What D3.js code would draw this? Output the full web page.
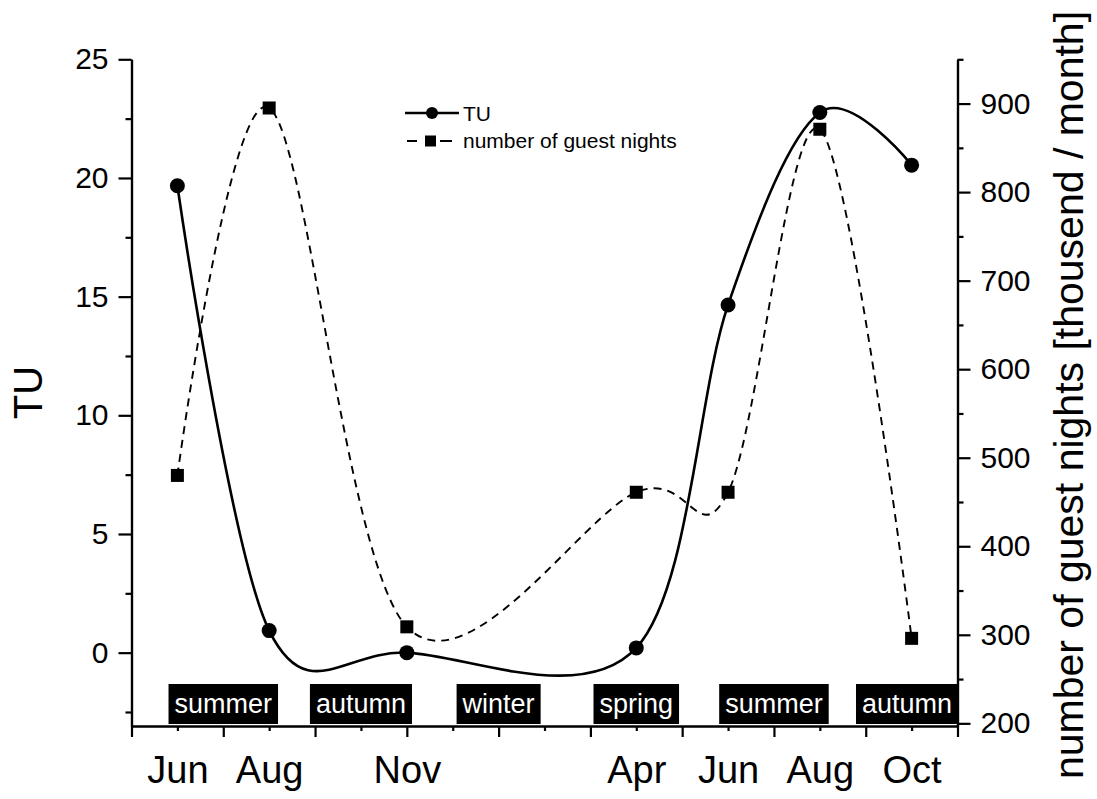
<!DOCTYPE html>
<html>
<head>
<meta charset="utf-8">
<script src="https://cdn.jsdelivr.net/npm/d3@7"></script>
<style>
  html, body { margin: 0; padding: 0; background: #fff; }
  svg text { font-family: "Liberation Sans", Arial, sans-serif; fill: #000; }
</style>
</head>
<body>
<svg id="chart" width="1097" height="799"></svg>
<script>
// ---- data ----
const monthPos = [1, 3, 6, 11, 13, 15, 17];            // month index (0 = May of first year)
const monthLabels = ["Jun", "Aug", "Nov", "Apr", "Jun", "Aug", "Oct"];
const tuValues = [19.67, 0.93, 0.0, 0.2, 14.65, 22.76, 20.54];
const guestNights = [480, 895, 309, 461, 461, 871, 296]; // thousand / month
const seasonNames = ["summer", "autumn", "winter", "spring", "summer", "autumn"];
const seasonCenters = [2, 5, 8, 11, 14, 16.9];
const tuTicks = [0, 5, 10, 15, 20, 25];
const tuMinor = [-2.5, 2.5, 7.5, 12.5, 17.5, 22.5];
const nightTicks = [200, 300, 400, 500, 600, 700, 800, 900];
const nightMinor = [250, 350, 450, 550, 650, 750, 850, 950];
const xMajor = [0, 2, 4, 6, 8, 10, 12, 14, 16, 18];
const xMinor = [1, 3, 5, 7, 9, 11, 13, 15, 17];

// ---- layout ----
const svg = d3.select("#chart");
const X0 = 131.5, X1 = 957.5, YT = 59.3, YB = 726;
const x = d3.scaleLinear().domain([0, 18]).range([X0, X1]);
const yL = d3.scaleLinear().domain([-3.09, 25]).range([YB, YT]);
const yR = d3.scaleLinear().domain([197, 950]).range([YB, YT]);
const curve = d3.curveCatmullRom.alpha(0);

const axisStroke = 2.2;
function styleAxis(g) {
  g.selectAll("path.domain").attr("stroke", "#000").attr("stroke-width", axisStroke);
  g.selectAll(".tick line").attr("stroke", "#000").attr("stroke-width", axisStroke);
}

// left axis
svg.append("g").attr("transform", `translate(${X0},0)`)
  .call(d3.axisLeft(yL).tickValues(tuTicks).tickSize(13).tickSizeOuter(0).tickPadding(10))
  .call(styleAxis)
  .call(g => g.selectAll(".tick text").attr("font-size", 30).attr("font-family", "Liberation Sans"));
svg.append("g").attr("transform", `translate(${X0},0)`)
  .call(d3.axisLeft(yL).tickValues(tuMinor).tickSize(6).tickSizeOuter(0).tickFormat(""))
  .call(styleAxis);

// right axis
svg.append("g").attr("transform", `translate(${X1},0)`)
  .call(d3.axisRight(yR).tickValues(nightTicks).tickSize(13).tickSizeOuter(0).tickPadding(10))
  .call(styleAxis)
  .call(g => g.selectAll(".tick text").attr("font-size", 30).attr("font-family", "Liberation Sans"));
svg.append("g").attr("transform", `translate(${X1},0)`)
  .call(d3.axisRight(yR).tickValues(nightMinor).tickSize(6).tickSizeOuter(0).tickFormat(""))
  .call(styleAxis);

// bottom axis
svg.append("g").attr("transform", `translate(0,${YB})`)
  .call(d3.axisBottom(x).tickValues(xMajor).tickSize(11).tickSizeOuter(0).tickFormat(""))
  .call(styleAxis);
svg.append("g").attr("transform", `translate(0,${YB})`)
  .call(d3.axisBottom(x).tickValues(xMinor).tickSize(5).tickSizeOuter(0).tickFormat(""))
  .call(styleAxis);
svg.append("g").attr("transform", `translate(0,${YB})`)
  .call(d3.axisBottom(x).tickValues(monthPos).tickSize(0).tickPadding(30)
        .tickFormat((d, i) => monthLabels[i]))
  .call(g => g.select("path.domain").remove())
  .call(g => g.selectAll(".tick text").attr("font-size", 38).attr("font-family", "Liberation Sans"));

// axis titles
svg.append("text")
  .attr("transform", `translate(42,${(YT + YB) / 2}) rotate(-90)`)
  .attr("text-anchor", "middle").attr("font-size", 40).text("TU");
svg.append("text")
  .attr("transform", `translate(1083,395) rotate(-90)`)
  .attr("text-anchor", "middle").attr("font-size", 41)
  .text("number of guest nights [thousend / month]");

// series
const tuData = monthPos.map((m, i) => [m, tuValues[i]]);
const gnData = monthPos.map((m, i) => [m, guestNights[i]]);

svg.append("path")
  .datum(gnData)
  .attr("fill", "none").attr("stroke", "#000").attr("stroke-width", 1.9)
  .attr("stroke-dasharray", "8,6")
  .attr("d", d3.line().x(d => x(d[0])).y(d => yR(d[1])).curve(curve));

svg.append("path")
  .datum(tuData)
  .attr("fill", "none").attr("stroke", "#000").attr("stroke-width", 2.6)
  .attr("d", d3.line().x(d => x(d[0])).y(d => yL(d[1])).curve(curve));

svg.selectAll("rect.gn").data(gnData).enter().append("rect")
  .attr("class", "gn")
  .attr("x", d => x(d[0]) - 6.5).attr("y", d => yR(d[1]) - 6.5)
  .attr("width", 13).attr("height", 13).attr("fill", "#000");

svg.selectAll("circle.tu").data(tuData).enter().append("circle")
  .attr("class", "tu")
  .attr("cx", d => x(d[0])).attr("cy", d => yL(d[1]))
  .attr("r", 7.5).attr("fill", "#000");

// season labels
const sg = svg.append("g");
seasonNames.forEach((s, i) => {
  const cx = x(seasonCenters[i]);
  const t = sg.append("text").attr("x", cx).attr("y", 713)
    .attr("text-anchor", "middle").attr("font-size", 27)
    .style("fill", "#fff").text(s);
  const w = t.node().getComputedTextLength() + 12;
  sg.insert("rect", "text")
    .attr("x", cx - w / 2).attr("y", 684).attr("width", w).attr("height", 40)
    .attr("fill", "#000");
});

// legend
const lg = svg.append("g");
lg.append("line").attr("x1", 405).attr("x2", 459).attr("y1", 113).attr("y2", 113)
  .attr("stroke", "#000").attr("stroke-width", 2.6);
lg.append("circle").attr("cx", 432).attr("cy", 113).attr("r", 6).attr("fill", "#000");
lg.append("text").attr("x", 463).attr("y", 121).attr("font-size", 21).text("TU");
[[407, 417], [440, 452]].forEach(seg => {
  lg.append("line").attr("x1", seg[0]).attr("x2", seg[1]).attr("y1", 141).attr("y2", 141)
    .attr("stroke", "#000").attr("stroke-width", 2);
});
lg.append("rect").attr("x", 425).attr("y", 135.5).attr("width", 11).attr("height", 11).attr("fill", "#000");
lg.append("text").attr("x", 463).attr("y", 148).attr("font-size", 21).text("number of guest nights");
</script>
</body>
</html>
